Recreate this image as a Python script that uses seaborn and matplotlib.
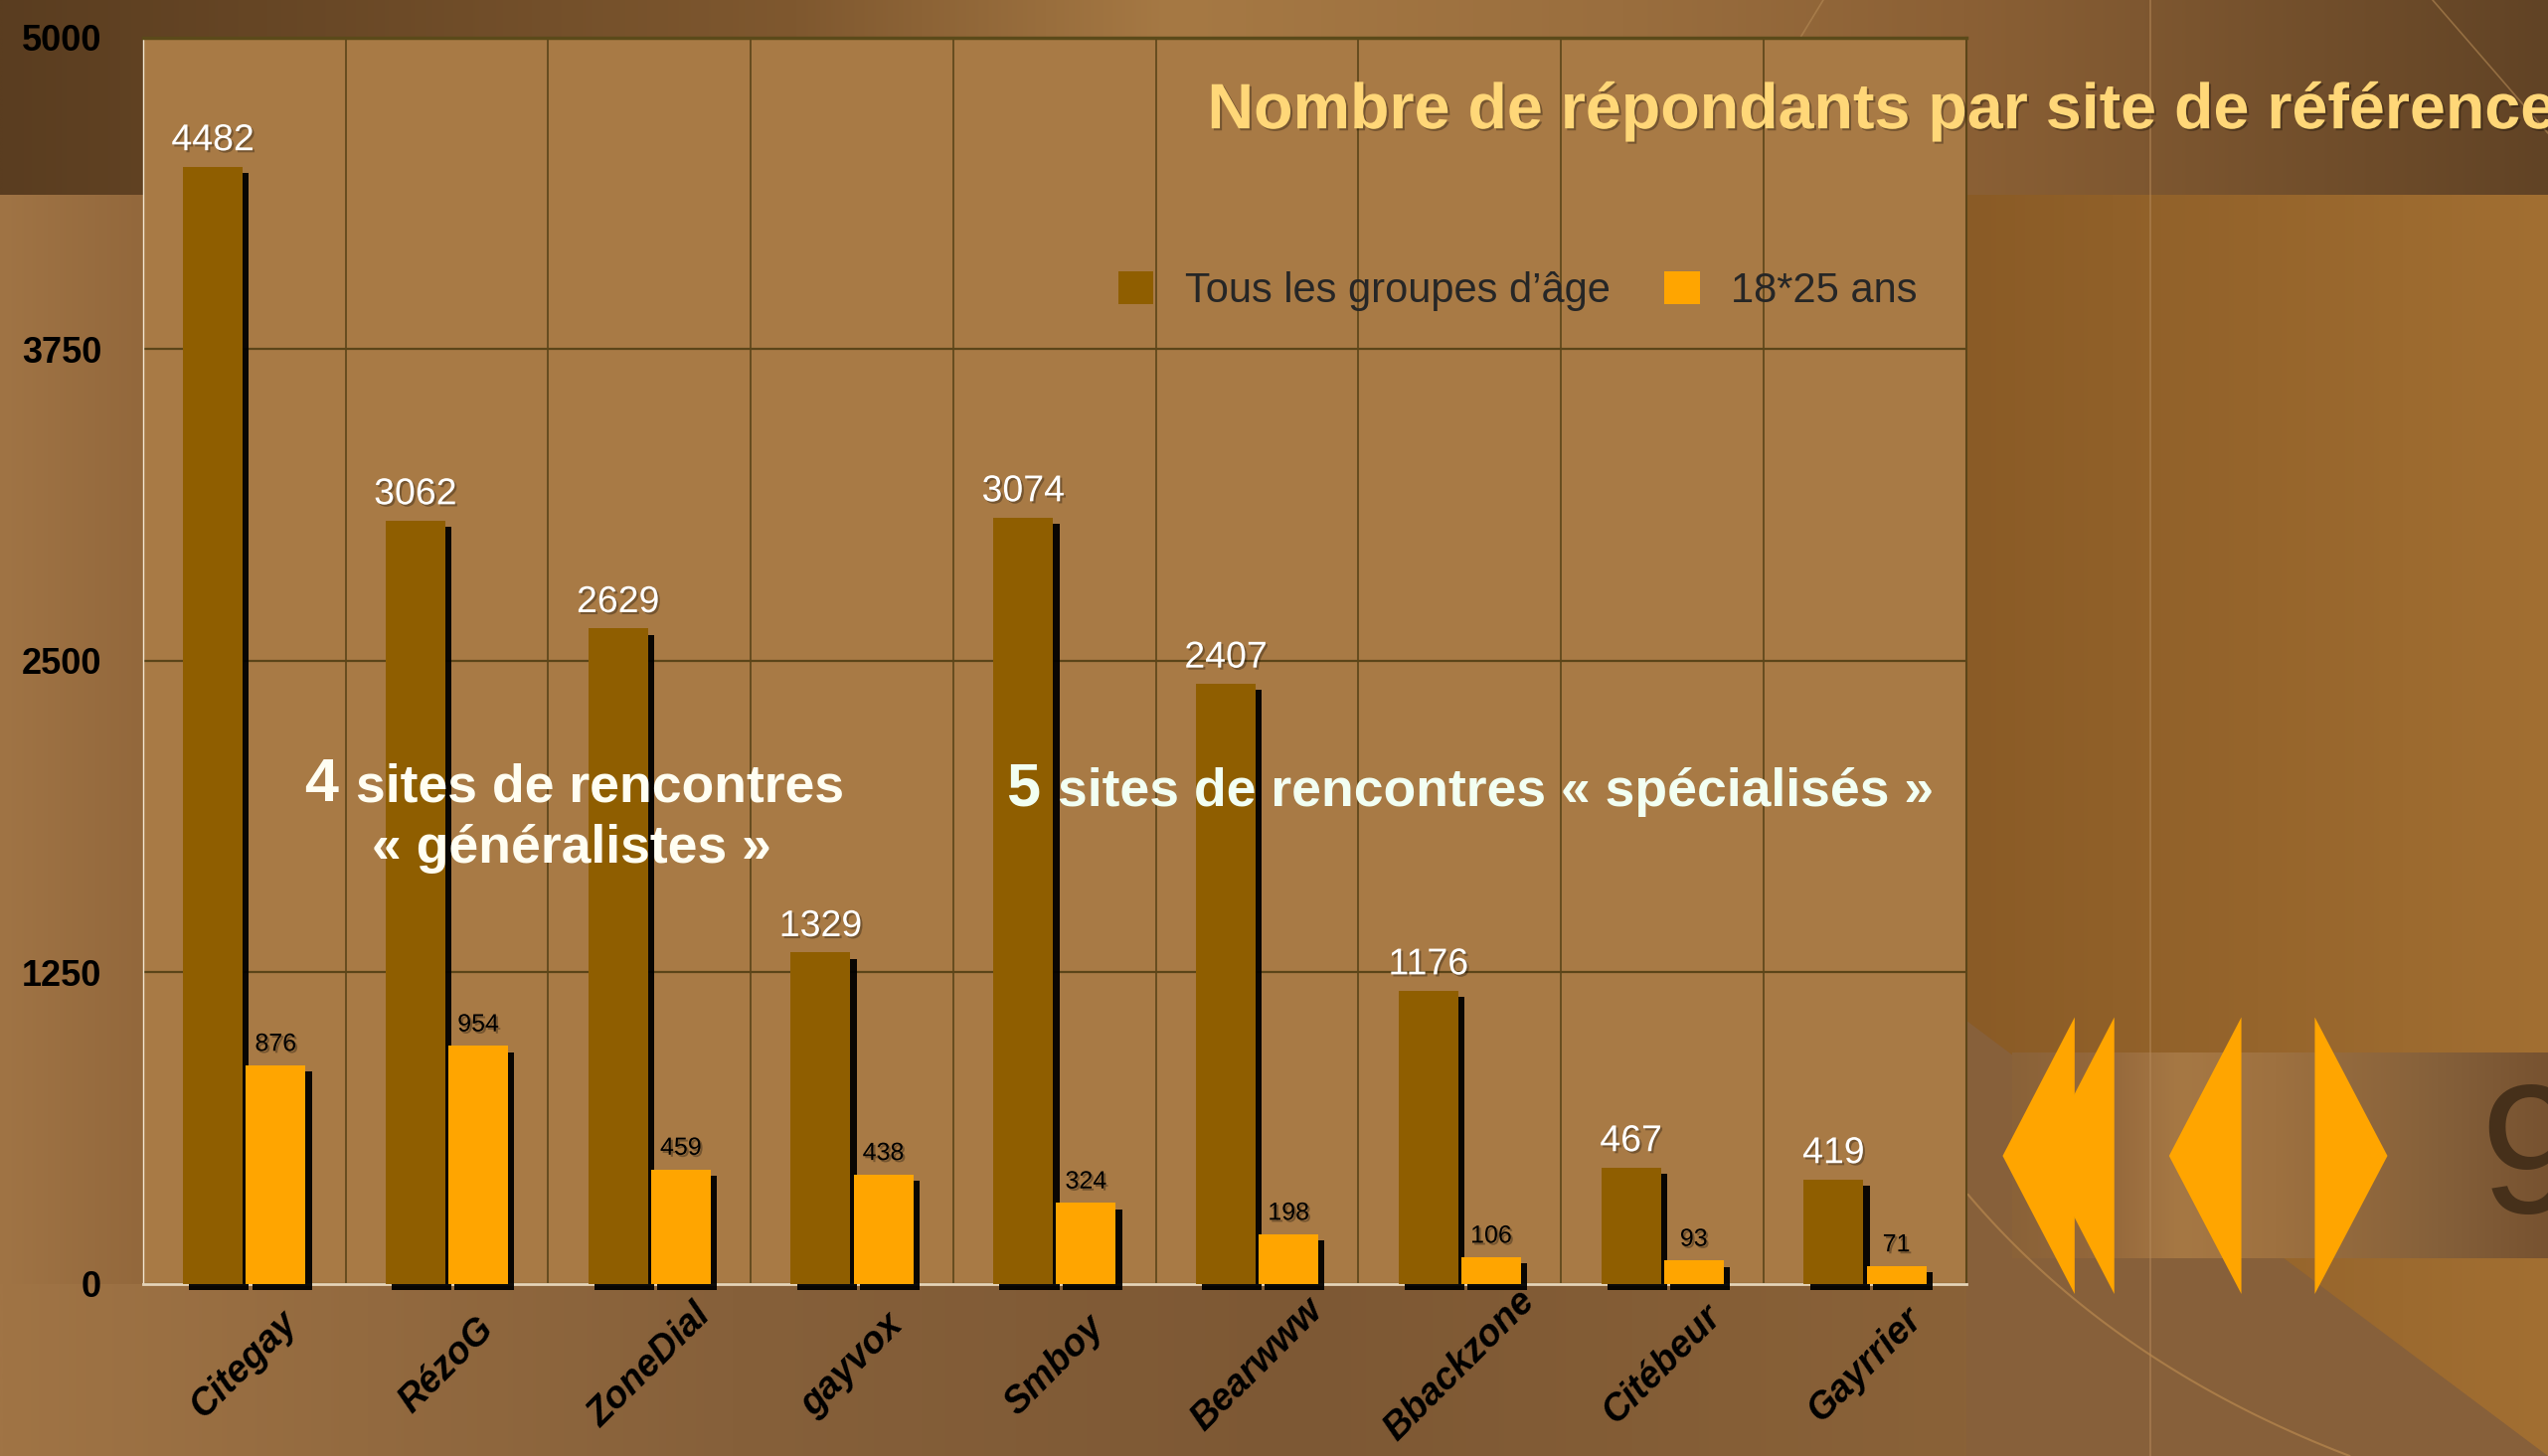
import numpy as np
import pandas as pd
import matplotlib
matplotlib.use("Agg")
import matplotlib.pyplot as plt
import matplotlib.patheffects as pe
from matplotlib.patches import Polygon, Patch
from matplotlib.colors import to_rgb
import seaborn as sns

# ---------------- data ----------------
sites = ["Citegay", "RézoG", "ZoneDial", "gayvox", "Smboy",
         "Bearwww", "Bbackzone", "Citébeur", "Gayrrier"]
tous_ages = [4482, 3062, 2629, 1329, 3074, 2407, 1176, 467, 419]
jeunes_18_25 = [876, 954, 459, 438, 324, 198, 106, 93, 71]
series_names = ["Tous les groupes d’âge", "18*25 ans"]
y_ticks = [0, 1250, 2500, 3750, 5000]
title = "Nombre de répondants par site de référence"
note_left_num, note_left_l1, note_left_l2 = "4", "sites de rencontres", "« généralistes »"
note_right_num, note_right_txt = "5", "sites de rencontres « spécialisés »"
slide_number = "9"

DARK = "#8F5E00"
ORANGE = "#FFA500"
NARROW = ["Liberation Sans Narrow", "Liberation Sans", "DejaVu Sans"]
SANS = ["Liberation Sans", "DejaVu Sans"]

W, H, DPI = 2563, 1465, 100
RW, RH = 1568, 896   # working coordinate system for decoration

sns.set_style("white")
plt.rcParams["font.family"] = SANS

fig = plt.figure(figsize=(W / DPI, H / DPI), dpi=DPI)

# ---------------- background decoration ----------------
bg = fig.add_axes([0, 0, 1, 1], zorder=-10)
bg.axis("off")


def hgrad(x0, x1, y0, y1, stops, zorder=0, alpha=1.0):
    xs = np.linspace(x0, x1, 500)
    sx = [s[0] for s in stops]
    cols = np.array([to_rgb(s[1]) for s in stops])
    img = np.stack([np.interp(xs, sx, cols[:, k]) for k in range(3)], axis=-1)[None, :, :]
    bg.imshow(img, extent=(x0, x1, y1, y0), aspect="auto", zorder=zorder,
              alpha=alpha, interpolation="bilinear")


# base
hgrad(0, RW, 0, RH, [(0, "#A07445"), (450, "#86603A"), (800, "#7D5834"),
                     (1210, "#8A6238"), (1568, "#9A6A35")], zorder=0)
# left strip
hgrad(0, 88, 120, 790, [(0, "#A07445"), (88, "#93683C")], zorder=1)
# top band
hgrad(0, RW, 0, 120, [(0, "#5A3D20"), (490, "#7F582F"), (720, "#A67944"),
                      (1000, "#9A6E3E"), (1210, "#8B6035"), (1568, "#614325")], zorder=2)
# right panel
hgrad(1210, RW, 120, RH, [(1210, "#8A5B26"), (1568, "#A26F32")], zorder=2)
bg.add_patch(Polygon([(1210, 628), (1568, 896), (1210, 896)], closed=True,
                     facecolor="#87603A", edgecolor="none", zorder=3))
# band with slide number
hgrad(1238, RW, 648, 774, [(1238, "#8A6238"), (1300, "#96693C"), (1340, "#A67844"),
                           (1400, "#9E7140"), (1500, "#85603A"), (1568, "#775230")], zorder=4)
# thin lines
bg.plot([1323, 1323], [0, RH], color="#B5895A", lw=1.2, alpha=0.6, zorder=5)
t = np.linspace(0, 1, 100)
p0, p1, p2 = np.array([1211, 735]), np.array([1300, 840]), np.array([1446, 896])
curve = ((1 - t) ** 2)[:, None] * p0 + (2 * (1 - t) * t)[:, None] * p1 + (t ** 2)[:, None] * p2
bg.plot(curve[:, 0], curve[:, 1], color="#B8884F", lw=1.5, alpha=0.7, zorder=5)
bg.plot([1497, 1568], [0, 82], color="#B58A55", lw=1.2, alpha=0.6, zorder=5)
bg.plot([1122, 1108], [0, 23], color="#B58A55", lw=1.2, alpha=0.6, zorder=5)

# navigation arrows
arrows = [
    [(1232.4, 711.3), (1276.7, 626), (1276.7, 796.3)],
    [(1256.9, 711.3), (1301.1, 626), (1301.1, 796.3)],
    [(1334.8, 711.3), (1379.3, 626), (1379.3, 796.3)],
    [(1469.2, 711.3), (1424.5, 626), (1424.5, 796.3)],
]
for tri in arrows:
    bg.add_patch(Polygon(tri, closed=True, facecolor=ORANGE, edgecolor="none", zorder=6))

bg.set_xlim(0, RW)
bg.set_ylim(RH, 0)

# ---------------- main chart ----------------
ax = fig.add_axes([88 / RW, 1 - 790 / RH, (1210 - 88) / RW, (790 - 23) / RH])
ax.set_facecolor("#A87A45")

df = pd.DataFrame({
    "site": sites * 2,
    "n": tous_ages + jeunes_18_25,
    "groupe": [series_names[0]] * len(sites) + [series_names[1]] * len(sites),
})
sns.barplot(data=df, x="site", y="n", hue="groupe", palette=[DARK, ORANGE],
            width=0.62, gap=0.05, saturation=1, errorbar=None, legend=False,
            ax=ax, zorder=3, linewidth=0, edgecolor="none")

for bar in ax.patches:
    bar.set_linewidth(0)
    bar.set_edgecolor("none")
    bar.set_path_effects([pe.SimplePatchShadow(offset=(4.5, -4.5), shadow_rgbFace="black", alpha=0.95),
                          pe.Normal()])
    bar.set_clip_on(False)

ax.set_xlim(-0.5, len(sites) - 0.5)
ax.set_ylim(0, 5000)
ax.set_yticks(y_ticks)
ax.set_yticklabels([str(v) for v in y_ticks], fontsize=26, fontweight="bold",
                   family=NARROW, color="black")
ax.set_xticks(range(len(sites)))
ax.set_xticklabels(sites, rotation=45, ha="center", va="center", rotation_mode="anchor",
                   fontsize=27, fontweight="bold", fontstyle="italic", family=SANS, color="black")
ax.set_xticks(np.arange(-0.5, len(sites), 1), minor=True)
ax.tick_params(axis="both", which="both", length=0)
ax.tick_params(axis="y", pad=30)
ax.tick_params(axis="x", pad=59)
ax.set_xlabel("")
ax.set_ylabel("")

ax.set_axisbelow(True)
ax.yaxis.grid(True, color="#5B4519", lw=1.6)
ax.xaxis.grid(True, which="minor", color="#5B4519", lw=1.2)
ax.xaxis.grid(False, which="major")

ax.spines["top"].set_color("#5B4A1A")
ax.spines["top"].set_linewidth(2.5)
ax.spines["right"].set_color("#5B4519")
ax.spines["right"].set_linewidth(1.5)
ax.spines["left"].set_color("#F2E6D0")
ax.spines["left"].set_linewidth(1.0)
ax.spines["bottom"].set_color("#E6D4B8")
ax.spines["bottom"].set_linewidth(2.0)
for s in ax.spines.values():
    s.set_zorder(2.5)

# value labels
for cont, col, size, pad in zip(ax.containers, ["white", "black"], [27, 18], [6, 7]):
    texts = ax.bar_label(cont, fmt="%d", padding=pad, color=col, fontsize=size,
                         family=NARROW, zorder=6)
    for tx in texts:
        tx.set_path_effects([pe.withSimplePatchShadow(offset=(1.5, -1.5),
                                                      shadow_rgbFace="black", alpha=0.3)])

# legend
handles = [Patch(facecolor=DARK, edgecolor="none"), Patch(facecolor=ORANGE, edgecolor="none")]
ax.legend(handles, series_names, loc="center left",
          bbox_to_anchor=((688 - 88) / 1122, (790 - 179) / 767),
          ncol=2, frameon=False, prop={"family": NARROW, "size": 30},
          handlelength=0.86, handleheight=0.86, handletextpad=0.75,
          columnspacing=1.3, borderpad=0, borderaxespad=0)

# ---------------- texts ----------------
tr = bg.transData
fig.text(743, 79, title, transform=tr, ha="left", va="baseline", fontsize=46.5,
         fontweight="bold", color="#FFD778", family=NARROW,
         path_effects=[pe.withSimplePatchShadow(offset=(1.5, -1.5), shadow_rgbFace="black", alpha=0.3)])

LEFT_COL = "#FFFEF2"
RIGHT_COL = "#F2FFF2"
fig.text(208, 493, note_left_num, transform=tr, ha="right", va="baseline",
         fontsize=44, fontweight="bold", color=LEFT_COL, family=SANS)
fig.text(219, 493, note_left_l1, transform=tr, ha="left", va="baseline",
         fontsize=38.5, fontweight="bold", color=LEFT_COL, family=SANS)
fig.text(352, 531, note_left_l2, transform=tr, ha="center", va="baseline",
         fontsize=38.5, fontweight="bold", color=LEFT_COL, family=SANS)
fig.text(640, 496, note_right_num, transform=tr, ha="right", va="baseline",
         fontsize=44, fontweight="bold", color=RIGHT_COL, family=SANS)
fig.text(651, 496, note_right_txt, transform=tr, ha="left", va="baseline",
         fontsize=38.5, fontweight="bold", color=RIGHT_COL, family=SANS)

fig.text(1526, 746, slide_number, transform=tr, ha="left", va="baseline",
         fontsize=134, color="#46301A", family=SANS)

fig.savefig("out.png", dpi=DPI)
